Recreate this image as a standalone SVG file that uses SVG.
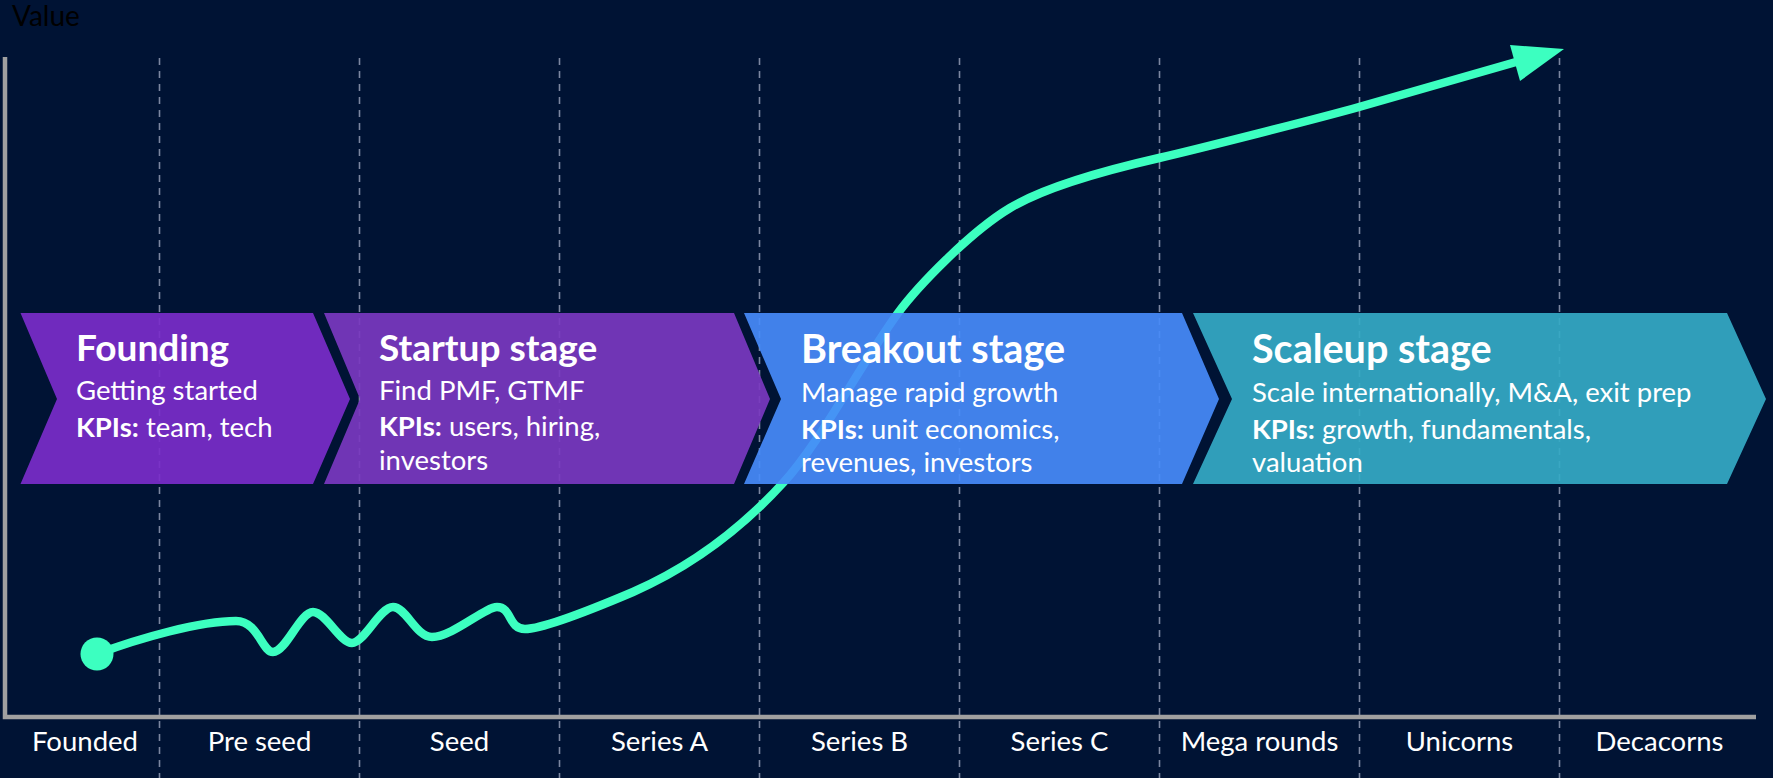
<svg xmlns="http://www.w3.org/2000/svg" width="1773" height="778" viewBox="0 0 1773 778">
<style>
.grid{stroke:#7b86a0;stroke-width:1.6;stroke-dasharray:7 6;fill:none}
.axis{stroke:#a0a0a0;stroke-width:4.5;fill:none}
.curve{stroke:#3cffc0;stroke-width:8.5;fill:none;stroke-linecap:round;stroke-linejoin:round}
.chev{opacity:0.92}
.t{font-family:Lato,"Liberation Sans",sans-serif;fill:#ffffff}
.title{font-weight:700;font-size:37px}
.title2{font-weight:700;font-size:39.5px}
.sub{font-size:27.5px}
.b{font-weight:700}
.lbl{font-family:Lato,"Liberation Sans",sans-serif;fill:#ffffff;font-size:27.5px;text-anchor:middle}
</style>
<rect width="1773" height="778" fill="#001334"/>
<text x="12" y="26" font-family="Lato,'Liberation Sans',sans-serif" font-size="28" fill="#000000">Value</text>
<g id="grid">
<line class="grid" x1="159.5" y1="58" x2="159.5" y2="778"/>
<line class="grid" x1="359.5" y1="58" x2="359.5" y2="778"/>
<line class="grid" x1="559.5" y1="58" x2="559.5" y2="778"/>
<line class="grid" x1="759.5" y1="58" x2="759.5" y2="778"/>
<line class="grid" x1="959.5" y1="58" x2="959.5" y2="778"/>
<line class="grid" x1="1159.5" y1="58" x2="1159.5" y2="778"/>
<line class="grid" x1="1359.5" y1="58" x2="1359.5" y2="778"/>
<line class="grid" x1="1559.5" y1="58" x2="1559.5" y2="778"/>
</g>
<g id="axes">
<polyline class="axis" points="5,57 5,717 1756,717"/>
</g>
<g id="connectors">
<path class="curve" d="M97,654 C140,638 200,621 236,621 C258,621 262,652 273,652 C286,652 300,612 313,612 C326,612 340,643 352,643 C364,643 380,607 393,607 C406,607 416,637 432,637 C452,637 485,607 497,607 C512,607 508,629 525,629 C545,629 600,606 633,592 C690,567 740,530 783,483 C820,443 860,365 898,313 C918,286 970,232 1010,208 C1050,184 1124,166 1159,158 C1194,150 1320,118 1359,107 L1516,62"/>
<polygon points="1564,49 1510,45 1520,81" fill="#3cffc0"/>
<circle cx="97" cy="654" r="16.5" fill="#3cffc0"/>
</g>
<g id="founding">
<polygon class="chev" fill="#792cca" points="20.5,313 313,313 350,399 313,484 20.5,484 57,399"/>
<text class="t title" x="76" y="361">Founding</text>
<text class="t sub" x="76" y="400">Getting started</text>
<text class="t sub" x="76" y="437"><tspan class="b">KPIs:</tspan> team, tech</text>
</g>
<g id="startup">
<polygon class="chev" fill="#7a38c0" points="324,313 734,313 770,399 734,484 324,484 360,399"/>
<text class="t title" x="379" y="361">Startup stage</text>
<text class="t sub" x="379" y="400">Find PMF, GTMF</text>
<text class="t sub" x="379" y="436"><tspan class="b">KPIs:</tspan> users, hiring,</text>
<text class="t sub" x="379" y="470">investors</text>
</g>
<g id="breakout">
<polygon class="chev" fill="#468bfa" points="744,313 1182,313 1219,399 1182,484 744,484 781,399"/>
<text class="t title2" x="801" y="363">Breakout stage</text>
<text class="t sub" x="801" y="401.5">Manage rapid growth</text>
<text class="t sub" x="801" y="439"><tspan class="b">KPIs:</tspan> unit economics,</text>
<text class="t sub" x="801" y="472">revenues, investors</text>
</g>
<g id="scaleup">
<polygon class="chev" fill="#34aac6" points="1193,313 1727,313 1766,399 1727,484 1193,484 1232,399"/>
<text class="t title2" x="1252" y="363">Scaleup stage</text>
<text class="t sub" x="1252" y="401.5">Scale internationally, M&amp;A, exit prep</text>
<text class="t sub" x="1252" y="439"><tspan class="b">KPIs:</tspan> growth, fundamentals,</text>
<text class="t sub" x="1252" y="472">valuation</text>
</g>
<g id="labels">
<text class="lbl" x="85" y="751">Founded</text>
<text class="lbl" x="259.5" y="751">Pre seed</text>
<text class="lbl" x="459.5" y="751">Seed</text>
<text class="lbl" x="659.5" y="751">Series A</text>
<text class="lbl" x="859.5" y="751">Series B</text>
<text class="lbl" x="1059.5" y="751">Series C</text>
<text class="lbl" x="1259.5" y="751">Mega rounds</text>
<text class="lbl" x="1459.5" y="751">Unicorns</text>
<text class="lbl" x="1659.5" y="751">Decacorns</text>
</g>
</svg>
